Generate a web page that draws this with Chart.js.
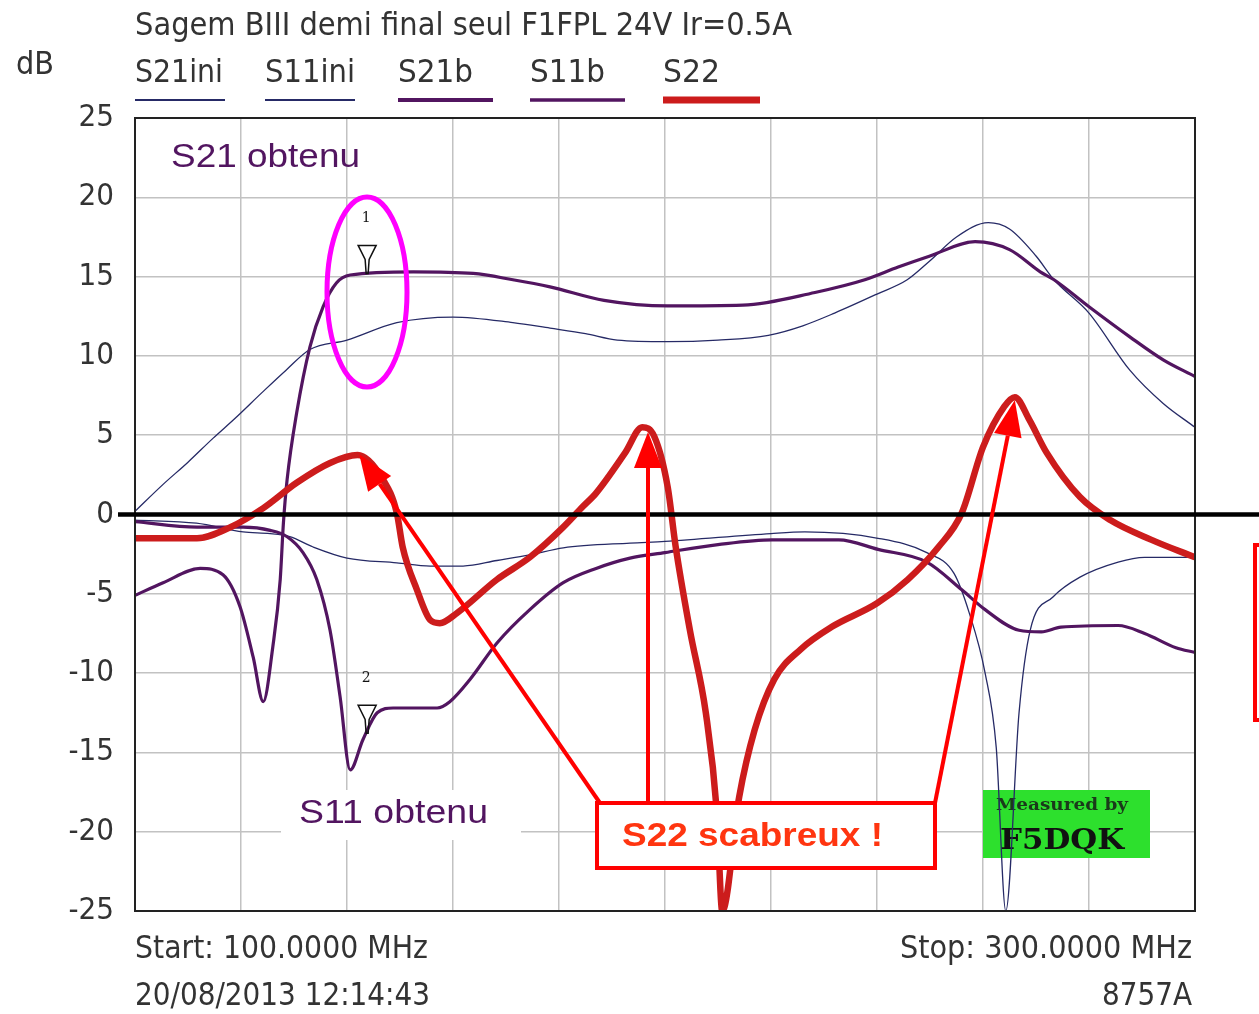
<!DOCTYPE html>
<html lang="fr">
<head>
  <meta charset="UTF-8" />
  <title>Sagem BIII demi final seul F1FPL</title>
  <script src="https://cdn.jsdelivr.net/npm/chart.js"></script>
  <style>
    html, body { margin: 0; padding: 0; background: #fff; }
    #vna { display: block; }
  </style>
</head>
<body>
  <canvas id="vna" width="1259" height="1014"></canvas>

  <script>
    const s21iniFreq = [100, 105.3, 110, 114.7, 119, 124, 128.5, 133, 140, 149.4, 160, 171.3, 178.3, 185, 191, 200.5, 210, 219.5, 226, 232, 240, 245.7, 250, 255, 261, 265, 270, 273.4, 280, 287.7, 294, 300];
    const s21iniDb   = [0.2, 1.9, 3.3, 4.8, 6.1, 7.7, 9.1, 10.4, 11.0, 12.1, 12.45, 12.1, 11.75, 11.4, 11.0, 10.9, 11.0, 11.3, 11.9, 12.7, 13.9, 14.8, 16.0, 17.5, 18.4, 18.0, 16.3, 14.8, 12.7, 9.1, 7.0, 5.5];

    const s11iniFreq = [100, 111.6, 120.4, 125.5, 129.2, 133.6, 140, 149.4, 155.7, 161.9, 168.3, 174.5, 180.8, 193.4, 200, 220, 226.4, 240.2, 249.4, 254.5, 257.4, 260.4, 262.5, 264.3, 266.8, 268.9, 273.2, 278.3, 285.5, 290.5, 300];
    const s11iniDb   = [-0.35, -0.55, -1.1, -1.2, -1.4, -2.05, -2.75, -3.05, -3.25, -3.25, -2.9, -2.55, -2.1, -1.8, -1.7, -1.2, -1.1, -1.5, -2.4, -3.7, -6.2, -10.0, -14.7, -25, -12.5, -7.3, -5.2, -3.95, -3.0, -2.7, -2.7];

    const s21bFreq = [100, 105.3, 112.3, 116.6, 119.8, 122.3, 124.2, 126, 127.4, 128, 128.7, 130.5, 133, 135.5, 138, 140.6, 152.5, 163.8, 171.3, 178.3, 188.5, 200.5, 214.7, 228.3, 237.7, 244, 250, 258.5, 265, 270.8, 273.4, 280, 287.7, 294, 300];
    const s21bDb   = [-5.1, -4.3, -3.4, -3.8, -5.8, -9.0, -11.8, -8.35, -4.1, -0.55, 2.2, 6.4, 10.56, 13.1, 14.6, 15.1, 15.3, 15.2, 14.8, 14.35, 13.5, 13.15, 13.2, 14.0, 14.8, 15.6, 16.3, 17.2, 16.7, 15.3, 14.8, 13.1, 11.2, 9.75, 8.7];

    const s11bFreq = [100, 111.7, 120.4, 125.5, 128.7, 131.7, 134.3, 136.8, 138.7, 140.6, 143, 145.7, 148.7, 157, 159.4, 163.2, 168.3, 174.5, 180.8, 187, 193.4, 200, 210, 220.2, 232.8, 240.2, 249.4, 256, 260.4, 266.8, 271, 274.7, 285.5, 290.5, 296.4, 300];
    const s11bDb   = [-0.45, -0.8, -0.8, -1.0, -1.4, -2.4, -4.1, -7.3, -11.5, -16.1, -14.2, -12.5, -12.2, -12.2, -11.8, -10.4, -8.1, -6.0, -4.3, -3.4, -2.75, -2.4, -1.9, -1.6, -1.6, -2.2, -3.0, -4.75, -6.0, -7.3, -7.4, -7.1, -7.0, -7.5, -8.4, -8.7];

    const s22Freq = [100, 111.7, 118, 124.2, 130.5, 136.8, 142, 146.8, 149.4, 150.5, 153.2, 155.7, 157.5, 160.8, 168.3, 174.5, 180.8, 184.5, 187, 192.5, 195.7, 198, 200.5, 202, 204.7, 207.7, 209.8, 210.8, 214, 216.9, 220.6, 225.6, 231.4, 240, 245.8, 251.6, 256, 260, 264, 266, 268.7, 272, 278.3, 284, 291.8, 300];
    const s22Db   = [-1.5, -1.5, -0.8, 0.4, 2.0, 3.25, 3.75, 2.2, 0.1, -2.05, -4.75, -6.65, -6.85, -6.2, -4.1, -2.7, -0.8, 0.5, 1.35, 3.9, 5.5, 4.9, 1.75, -2.0, -7.3, -12.5, -18.8, -25, -17.8, -13.6, -10.4, -8.5, -7.1, -5.6, -4.1, -2.05, 0.1, 4.25, 6.8, 7.4, 6.0, 3.9, 1.1, -0.35, -1.6, -2.7];

    const traceNames = ['S21ini', 'S11ini', 'S21b', 'S11b', 'S22'];
    const yTicks = [25, 20, 15, 10, 5, 0, -5, -10, -15, -20, -25];

    const NAVY = '#262a66';
    const PURPLE = '#521560';
    const RED = '#cc1c1c';
    const NARROW = '"Liberation Sans Narrow", "DejaVu Sans Condensed", "Liberation Sans", sans-serif';

    function toPoints(freq, db) {
      return freq.map((f, i) => ({ x: f, y: db[i] }));
    }

    // texte etire a une largeur donnee (la police du 8757A est tres etroite)
    function fitText(ctx, txt, x, y, w, font, color, align) {
      ctx.save();
      ctx.font = font;
      ctx.fillStyle = color;
      ctx.textBaseline = 'middle';
      ctx.textAlign = 'left';
      const k = w / ctx.measureText(txt).width;
      const x0 = align === 'right' ? x - w : x;
      ctx.translate(x0, y);
      ctx.scale(k, 1);
      ctx.fillText(txt, 0, 0);
      ctx.restore();
    }

    function arrow(ctx, x1, y1, x2, y2) {
      const a = Math.atan2(y2 - y1, x2 - x1);
      const len = 36, half = 14;
      const bx = x2 - len * Math.cos(a), by = y2 - len * Math.sin(a);
      ctx.beginPath();
      ctx.moveTo(x1, y1);
      ctx.lineTo(bx, by);
      ctx.stroke();
      ctx.beginPath();
      ctx.moveTo(x2, y2);
      ctx.lineTo(bx + half * Math.sin(a), by - half * Math.cos(a));
      ctx.lineTo(bx - half * Math.sin(a), by + half * Math.cos(a));
      ctx.closePath();
      ctx.fill();
    }

    function marker(ctx, x, y, label) {
      ctx.save();
      ctx.strokeStyle = '#111';
      ctx.lineWidth = 1.5;
      ctx.beginPath();
      ctx.moveTo(x - 9, y - 28);
      ctx.lineTo(x + 9, y - 28);
      ctx.lineTo(x + 2, y - 14);
      ctx.lineTo(x + 1, y);
      ctx.lineTo(x - 1, y);
      ctx.lineTo(x - 2, y - 14);
      ctx.closePath();
      ctx.stroke();
      ctx.fillStyle = '#111';
      ctx.font = '14px "DejaVu Serif", serif';
      ctx.textAlign = 'center';
      ctx.textBaseline = 'middle';
      ctx.fillText(label, x - 1, y - 55);
      ctx.restore();
    }

    const behindPlugin = {
      id: 'behind',
      beforeDatasetsDraw(chart) {
        const ctx = chart.ctx;
        ctx.save();
        // etiquette "Measured by F5DQK"
        ctx.fillStyle = '#2de02d';
        ctx.fillRect(983, 790, 167, 68);
        ctx.restore();
        fitText(ctx, 'Measured by', 996, 806, 132, 'bold 17px "DejaVu Serif", serif', '#1a3a1a', 'left');
        fitText(ctx, 'F5DQK', 1000, 842, 124, 'bold 28px "DejaVu Serif", serif', '#111', 'left');
        // cartouche S11 obtenu
        ctx.save();
        ctx.fillStyle = '#fff';
        ctx.fillRect(281, 790, 240, 50);
        ctx.restore();
        fitText(ctx, 'S11 obtenu', 299, 814, 189, '33px "Liberation Sans", Arial, sans-serif', PURPLE, 'left');
      }
    };

    const overlayPlugin = {
      id: 'overlay',
      afterDraw(chart) {
        const ctx = chart.ctx;
        const xs = chart.scales.x, ys = chart.scales.y;
        const a = chart.chartArea;

        // cadre
        ctx.save();
        ctx.strokeStyle = '#222';
        ctx.lineWidth = 2;
        ctx.strokeRect(a.left, a.top, a.right - a.left, a.bottom - a.top);

        // ligne 0 dB
        ctx.strokeStyle = '#000';
        ctx.lineWidth = 4.5;
        ctx.beginPath();
        ctx.moveTo(118, ys.getPixelForValue(0));
        ctx.lineTo(1259, ys.getPixelForValue(0));
        ctx.stroke();
        ctx.restore();

        // marqueurs 1 et 2
        marker(ctx, xs.getPixelForValue(143.8), ys.getPixelForValue(15.2), '1');
        marker(ctx, xs.getPixelForValue(143.8), ys.getPixelForValue(-13.8), '2');

        // ellipse S21
        ctx.save();
        ctx.strokeStyle = '#ff00ff';
        ctx.lineWidth = 5;
        ctx.beginPath();
        ctx.ellipse(367, 292, 40, 95, 0, 0, Math.PI * 2);
        ctx.stroke();
        ctx.restore();

        fitText(ctx, 'S21 obtenu', 171, 158, 189, '33px "Liberation Sans", Arial, sans-serif', PURPLE, 'left');

        // fleches S22
        ctx.save();
        ctx.strokeStyle = '#ff0000';
        ctx.fillStyle = '#ff0000';
        ctx.lineWidth = 4;
        arrow(ctx, 600, 803, xs.getPixelForValue(142.3), ys.getPixelForValue(3.8));
        arrow(ctx, 648, 803, 648, ys.getPixelForValue(5.2));
        arrow(ctx, 935, 803, xs.getPixelForValue(266), ys.getPixelForValue(7.2));

        ctx.fillStyle = '#fff';
        ctx.fillRect(597, 803, 338, 65);
        ctx.strokeRect(597, 803, 338, 65);
        // cadre coupe a droite
        ctx.strokeRect(1255, 545, 60, 175);
        ctx.restore();
        fitText(ctx, 'S22 scabreux !', 622, 837, 261, 'bold 33px "Liberation Sans", Arial, sans-serif', '#ff3510', 'left');

        // entete
        const txt = '#333';
        fitText(ctx, 'Sagem BIII demi final seul F1FPL 24V Ir=0.5A', 135, 27, 657, '32px ' + NARROW, txt, 'left');
        fitText(ctx, 'dB', 16, 66, 38, '32px ' + NARROW, txt, 'left');

        const legX = [135, 265, 398, 530, 663];
        const legW = [88, 90, 75, 75, 57];
        const lineW = [90, 90, 95, 95, 97];
        const lineC = [NAVY, NAVY, PURPLE, PURPLE, RED];
        const lineT = [2, 2, 4, 3.5, 7];
        traceNames.forEach((name, i) => {
          fitText(ctx, name, legX[i], 74, legW[i], '32px ' + NARROW, txt, 'left');
          ctx.save();
          ctx.strokeStyle = lineC[i];
          ctx.lineWidth = lineT[i];
          ctx.beginPath();
          ctx.moveTo(legX[i], 100);
          ctx.lineTo(legX[i] + lineW[i], 100);
          ctx.stroke();
          ctx.restore();
        });

        // pied
        fitText(ctx, 'Start: 100.0000 MHz', 135, 950, 293, '32px ' + NARROW, txt, 'left');
        fitText(ctx, '20/08/2013 12:14:43', 135, 997, 295, '32px ' + NARROW, txt, 'left');
        fitText(ctx, 'Stop: 300.0000 MHz', 1192, 950, 292, '32px ' + NARROW, txt, 'right');
        fitText(ctx, '8757A', 1192, 997, 90, '32px ' + NARROW, txt, 'right');
      }
    };

    new Chart(document.getElementById('vna'), {
      type: 'line',
      data: {
        datasets: [
          { label: traceNames[0], data: toPoints(s21iniFreq, s21iniDb), borderColor: NAVY, borderWidth: 1.3, order: 3 },
          { label: traceNames[1], data: toPoints(s11iniFreq, s11iniDb), borderColor: NAVY, borderWidth: 1.3, order: 3 },
          { label: traceNames[2], data: toPoints(s21bFreq, s21bDb), borderColor: PURPLE, borderWidth: 3.2, order: 2 },
          { label: traceNames[3], data: toPoints(s11bFreq, s11bDb), borderColor: PURPLE, borderWidth: 3.2, order: 2 },
          { label: traceNames[4], data: toPoints(s22Freq, s22Db), borderColor: RED, borderWidth: 6.5, order: 1 }
        ]
      },
      options: {
        responsive: false,
        animation: false,
        devicePixelRatio: 1,
        elements: { point: { radius: 0 }, line: { cubicInterpolationMode: 'monotone', borderJoinStyle: 'round' } },
        layout: { padding: { top: 118, right: 64, bottom: 103, left: 0 } },
        plugins: { legend: { display: false }, tooltip: { enabled: false } },
        scales: {
          x: {
            type: 'linear', min: 100, max: 300,
            ticks: { stepSize: 20, display: false },
            grid: { color: '#c2c2c2', lineWidth: 1.5, drawTicks: false },
            border: { display: false },
            afterFit(s) { s.height = 0; }
          },
          y: {
            min: -25, max: 25,
            afterBuildTicks(s) { s.ticks = yTicks.map(v => ({ value: v })); },
            ticks: { padding: 21, color: '#333', font: { size: 31, family: NARROW } },
            grid: { color: '#c2c2c2', lineWidth: 1.5, drawTicks: false },
            border: { display: false },
            afterFit(s) { s.width = 135; }
          }
        }
      },
      plugins: [behindPlugin, overlayPlugin]
    });
  </script>
</body>
</html>
